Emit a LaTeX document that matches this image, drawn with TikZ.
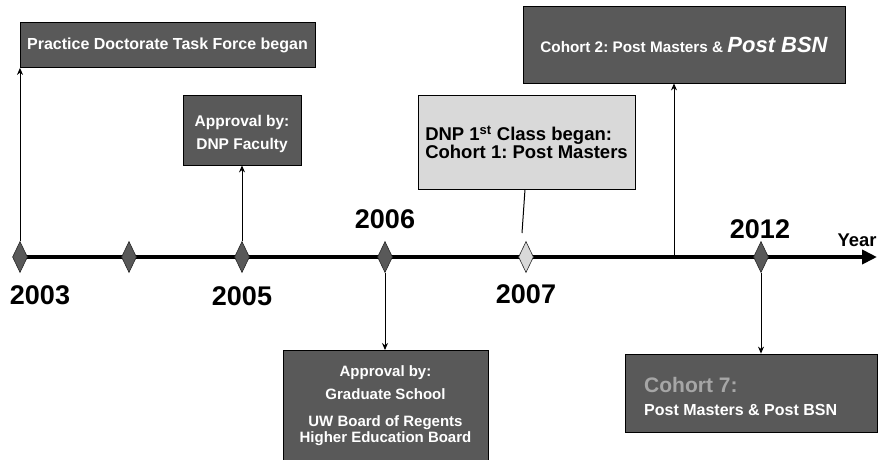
\documentclass[tikz,border=0pt]{standalone}
\usepackage{fontspec}
\setmainfont{Liberation Sans}
\usetikzlibrary{arrows.meta,shapes.geometric}
\definecolor{dk}{HTML}{595959}
\definecolor{lt}{HTML}{D9D9D9}
\definecolor{mid}{HTML}{A6A6A6}
\frenchspacing
\begin{document}
\begin{tikzpicture}[x=1pt,y=-1pt,
  box/.style={draw=black, line width=0.8pt, fill=dk, text=white, inner sep=0pt, align=center,
    font=\bfseries\fontsize{16}{18}\selectfont},
  btext/.style={text=white, inner sep=0pt, align=center, font=\bfseries\fontsize{15.5}{17}\selectfont},
  dia/.style={diamond, draw=black!85, line width=0.6pt, fill=dk, minimum width=15pt, minimum height=31pt, inner sep=0pt},
  yr/.style={font=\bfseries\fontsize{27}{27}\selectfont, text=black},
  arr/.style={-{Stealth[length=7pt,width=6pt]}, line width=1pt}]
\useasboundingbox (0,0) rectangle (881,459);
% timeline
\coordinate (t0) at (18,257);
\coordinate (t1) at (877,257);
\draw[line width=4pt, -{Triangle[length=15pt,width=14pt]}] (t0) -- (t1);
% boxes
\node[box, minimum width=295pt, minimum height=45pt] (b1) at (167.5,45) {Practice Doctorate Task Force began};
\node[box, minimum width=118pt, minimum height=70pt] (b2) at (242,130) {};
\node[btext] (b2t) at (242,134) {Approval by:\\[6pt]DNP Faculty};
\node[box, fill=lt, text=black, minimum width=217pt, minimum height=94pt, align=left,
  font=\bfseries\fontsize{18.5}{18}\selectfont] (b3) at (526.5,142) {DNP 1\textsuperscript{st} Class began:\\Cohort 1: Post Masters};
\node[box, minimum width=322pt, minimum height=77pt, font=\bfseries\fontsize{15.3}{17}\selectfont] (b4) at (684,44.5) {Cohort 2: Post Masters \& {\itshape\fontsize{22}{22}\selectfont Post BSN}};
\node[box, minimum width=205pt, minimum height=112pt, anchor=north] (b5) at (385.5,350) {};
\node[btext, font=\bfseries\fontsize{15}{16}\selectfont] (b5t) at (385.5,406) {Approval by:\\[7pt]Graduate School\\[11pt]UW Board of Regents\\Higher Education Board};
\node[box, minimum width=252pt, minimum height=78pt] (b6) at (751,393) {};
\node[btext, align=left, anchor=west, font=\bfseries\fontsize{16}{18}\selectfont] (b6t) at (644,396) {{\color{mid}\fontsize{21}{21}\selectfont Cohort 7:}\\[5pt]Post Masters \& Post BSN};
% diamonds
\node[dia] (d03) at (20,257) {};
\node[dia] (d04) at (129,257) {};
\node[dia] (d05) at (242,257) {};
\node[dia] (d06) at (385,257) {};
\node[dia, fill=lt] (d07) at (526,257) {};
\node[dia] (d12) at (761,257) {};
% connectors
\draw[arr] (d03.north) -- (d03.north |- b1.south);
\draw[arr] (d05.north) -- (d05.north |- b2.south);
\draw[arr] (d06.south) -- (d06.south |- b5.north);
\draw[arr] (d12.south) -- (d12.south |- b6.north);
\coordinate (c2) at (674,257);
\draw[arr] (c2) -- (c2 |- b4.south);
\coordinate (c7) at (522,233);
\draw[line width=1pt] (c7) -- ([xshift=-1.5pt]b3.south);
% year labels
\node[yr] (y03) at (40,295) {2003};
\node[yr] (y05) at (242,296) {2005};
\node[yr] (y06) at (385,219) {2006};
\node[yr] (y07) at (526,294) {2007};
\node[yr] (y12) at (760,229) {2012};
\node[font=\bfseries\fontsize{18.4}{18}\selectfont] (yl) at (857,240) {Year};
\end{tikzpicture}
\end{document}
